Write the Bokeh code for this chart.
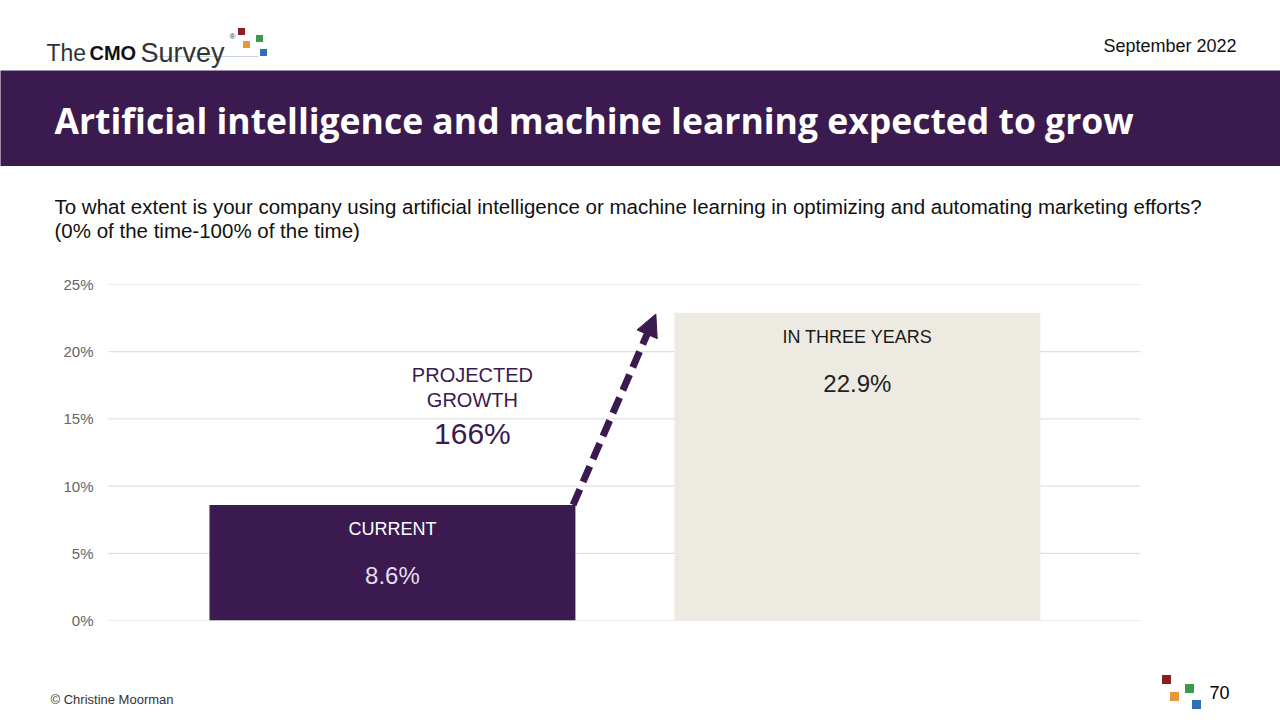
from bokeh.plotting import figure
from bokeh.models import (ColumnDataSource, Range1d, FixedTicker,
                          PrintfTickFormatter, Label, LabelSet, Arrow, NormalHead)
from bokeh.layouts import column
from bokeh.embed import file_html
from bokeh.resources import INLINE
from bokeh.core.properties import value, field

# ---------------- data ----------------
categories = ["Current", "In three years"]
bar_titles = ["CURRENT", "IN THREE YEARS"]
values = [8.6, 22.9]
y_ticks = [0, 5, 10, 15, 20, 25]
growth_pct = round((values[1] / values[0] - 1) * 100)  # 166

title_text = "Artificial intelligence and machine learning expected to grow"
question_1 = ("To what extent is your company using artificial intelligence or machine "
              "learning in optimizing and automating marketing efforts?")
question_2 = "(0% of the time-100% of the time)"
date_text = "September 2022"
footer_text = "\u00a9 Christine Moorman"
page_number = "70"

# ---------------- style ----------------
PURPLE = "#3a1a4f"
BEIGE = "#edeae1"
W = 1280
LEFT = 0            # left edge of every plotting frame (px)
SANS = "'Liberation Sans', Arial, sans-serif"
TITLE_FONT = "'Open Sans', Roboto, sans-serif"
SQUARE_COLORS = ["#8b1e1e", "#e8963a", "#3a9a4a", "#2e6fb7"]


def deco_fig(h, bg="white"):
    f = figure(width=W, height=h, x_range=Range1d(LEFT, W), y_range=Range1d(h, 0),
               output_backend="svg", toolbar_location=None,
               min_border_left=LEFT, min_border_right=0, min_border_top=0,
               min_border_bottom=0, x_axis_location=None, y_axis_location=None,
               outline_line_color=None, background_fill_color=bg, border_fill_color=bg)
    f.grid.visible = False
    return f


def lab(f, x, y, text, font=SANS, size="18px", color="#111111", align="left",
        baseline="middle", style="normal"):
    f.add_layout(Label(x=x, y=y, text=text, text_font=font, text_font_size=size,
                       text_color=color, text_align=align, text_baseline=baseline,
                       text_font_style=style))


# ---------------- header (logo + date) ----------------
head = deco_fig(70)
lab(head, 46, 52, "The", size="23px", color="#333333", baseline="alphabetic")
lab(head, 89, 52, "CMO", size="20px", color="#111111", baseline="alphabetic", style="bold")
lab(head, 140, 52, "Survey", size="27px", color="#333333", baseline="alphabetic")
lab(head, 229, 36, "\u00ae", size="8px", color="#333333")
head.segment(x0=[150], y0=[56], x1=[258], y1=[56], line_color="#c8d4e4", line_width=1)
head.scatter(x=[241, 246, 259, 263], y=[31, 44, 38, 52], marker="square", size=7,
             color=SQUARE_COLORS, line_color=None)
lab(head, 1236, 45, date_text, size="18px", color="#111111", align="right")

# ---------------- title band ----------------
band = deco_fig(96, bg=PURPLE)
lab(band, 54, 49, title_text, font=TITLE_FONT, size="35.5px", color="white", style="bold")

# ---------------- question ----------------
ques = deco_fig(90)
lab(ques, 54, 40, question_1, size="20.5px", color="#111111")
lab(ques, 54, 64, question_2, size="20.5px", color="#111111")

# ---------------- chart ----------------
bar_w = 0.787
x_pos = list(range(len(categories)))
grid_x = (-0.611, 1.609)   # horizontal extent of the gridlines
p = figure(width=W, height=384,
           x_range=Range1d(-0.843, 1.91), y_range=Range1d(0, 25),
           output_backend="svg", toolbar_location=None,
           min_border_left=LEFT, min_border_right=0, min_border_top=28,
           min_border_bottom=20, x_axis_location=None,
           outline_line_color=None, background_fill_color="white",
           border_fill_color="white")
p.grid.visible = False

# gridlines at the tick values
p.segment(x0=[grid_x[0]] * len(y_ticks), x1=[grid_x[1]] * len(y_ticks),
          y0=y_ticks, y1=y_ticks, line_color="#d9d9d9", line_width=1)

src = ColumnDataSource(dict(
    x=x_pos,
    cat=categories,
    value=values,
    title=bar_titles,
    value_text=[f"{v:.1f}%" for v in values],
    bar_color=[PURPLE, BEIGE],
    title_color=["#ffffff", "#1a1a1a"],
    value_color=["#e6dcee", "#222222"],
))

p.vbar(x="x", top="value", bottom=0, width=bar_w, source=src,
       fill_color="bar_color", line_color=None)

ax = p.yaxis[0]
ax.ticker = FixedTicker(ticks=y_ticks)
ax.formatter = PrintfTickFormatter(format="%d%%")
ax.axis_line_color = None
ax.major_tick_line_color = None
ax.minor_tick_line_color = None
ax.major_tick_out = 0
ax.major_tick_in = 0
ax.major_label_standoff = -93
ax.major_label_text_font = SANS
ax.major_label_text_font_size = "15px"
ax.major_label_text_color = "#666666"

p.add_layout(LabelSet(x="x", y="value", text="title", source=src, y_offset=-24,
                      text_align="center", text_baseline="middle",
                      text_font=value(SANS), text_font_size="18px",
                      text_color=field("title_color")))
p.add_layout(LabelSet(x="x", y="value", text="value_text", source=src, y_offset=-71,
                      text_align="center", text_baseline="middle",
                      text_font=value(SANS), text_font_size="24px",
                      text_color=field("value_color")))

# projected growth arrow: from top-right corner of current bar to top of future bar
x_start = x_pos[0] + bar_w / 2 - 0.005
x_end = x_pos[1] - bar_w / 2 - 0.04
p.add_layout(Arrow(x_start=x_start, y_start=values[0], x_end=x_end, y_end=values[1] - 0.1,
                   line_color=PURPLE, line_width=7, line_dash="17 8",
                   end=NormalHead(size=22, fill_color=PURPLE, line_color=PURPLE,
                                  line_width=1)))

gx = 0.172
for txt, yy, fs in [("PROJECTED", 18.23, "20px"), ("GROWTH", 16.37, "20px"),
                    (f"{growth_pct}%", 13.9, "30px")]:
    p.add_layout(Label(x=gx, y=yy, text=txt, text_align="center", text_baseline="middle",
                       text_font=SANS, text_font_size=fs, text_color=PURPLE))

# ---------------- footer ----------------
foot = deco_fig(80)
lab(foot, 50, 59, footer_text, size="13px", color="#333333")
lab(foot, 1209, 52, page_number, size="18px", color="#000000")
foot.scatter(x=[1166, 1174, 1189, 1196], y=[39, 56, 48, 64], marker="square", size=9,
             color=SQUARE_COLORS, line_color=None)

layout = column(head, band, ques, p, foot, spacing=0)
open("out.html", "w").write(file_html(layout, INLINE))
